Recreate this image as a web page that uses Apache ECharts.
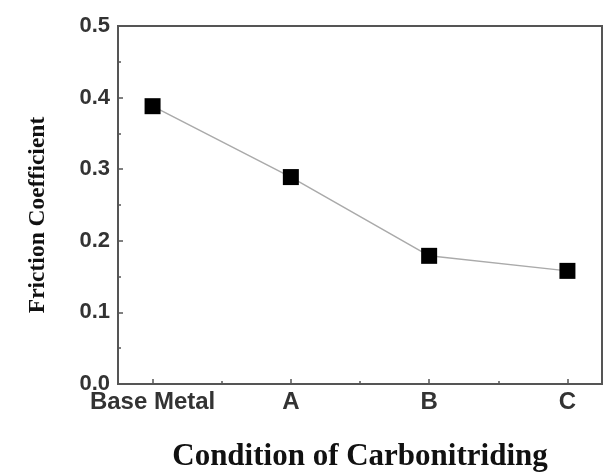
<!DOCTYPE html>
<html>
<head>
<meta charset="utf-8">
<script src="https://cdn.jsdelivr.net/npm/echarts@6/dist/echarts.min.js"></script>
<style>
html,body{margin:0;padding:0;background:#fff;}
#main{width:610px;height:474px;}
</style>
</head>
<body>
<div id="main"></div>
<script>
// data
var conditions = ['Base Metal', 'A', 'B', 'C'];
var friction = [0.388, 0.289, 0.179, 0.158];
var yTicks = [0, 0.1, 0.2, 0.3, 0.4, 0.5];

var points = friction.map(function (v, i) {
    return [i, v];
});
var catPos = conditions.map(function (c, i) { return i; });
var halfPos = [0.5, 1.5, 2.5];

var axisColor = '#555';
var labelFont = {fontFamily: 'Liberation Sans', fontWeight: 'bold', color: '#333'};

var option = {
    animation: false,
    grid: {
        left: 118,
        right: 8,
        top: 26,
        bottom: 90,
        outerBoundsMode: 'none',
        show: true,
        borderColor: axisColor,
        borderWidth: 2
    },
    xAxis: [
        {
            type: 'value',
            min: -0.25,
            max: 3.25,
            position: 'bottom',
            name: 'Condition of Carbonitriding',
            nameLocation: 'middle',
            nameGap: 57,
            nameTextStyle: {fontFamily: 'Liberation Serif', fontWeight: 'bold', fontSize: 31, color: '#111'},
            axisLine: {show: true, onZero: false, lineStyle: {color: axisColor, width: 2}},
            axisTick: {show: true, inside: true, length: 5, customValues: catPos, lineStyle: {color: axisColor, width: 1.5}},
            axisLabel: {
                customValues: catPos,
                fontSize: 24,
                margin: 6,
                fontFamily: labelFont.fontFamily,
                fontWeight: labelFont.fontWeight,
                color: labelFont.color,
                formatter: function (v) { return conditions[Math.round(v)]; }
            },
            splitLine: {show: false}
        },
        {
            type: 'value',
            min: -0.25,
            max: 3.25,
            position: 'bottom',
            axisLine: {show: false, onZero: false},
            axisTick: {show: true, inside: true, length: 3, customValues: halfPos, lineStyle: {color: axisColor, width: 1.5}},
            axisLabel: {show: false},
            splitLine: {show: false}
        }
    ],
    yAxis: {
        type: 'value',
        min: yTicks[0],
        max: yTicks[yTicks.length - 1],
        interval: 0.1,
        name: 'Friction Coefficient',
        nameLocation: 'middle',
        nameGap: 68,
        nameRotate: 90,
        nameTextStyle: {fontFamily: 'Liberation Serif', fontWeight: 'bold', fontSize: 23.5, color: '#111', padding: [0, 20, 0, 0]},
        axisLine: {show: true, onZero: false, lineStyle: {color: axisColor, width: 2}},
        axisTick: {show: true, inside: true, length: 5, lineStyle: {color: axisColor, width: 1.5}},
        minorTick: {show: true, splitNumber: 2, length: 3, lineStyle: {color: axisColor, width: 1.5}},
        axisLabel: {
            fontSize: 22,
            margin: 8,
            fontFamily: labelFont.fontFamily,
            fontWeight: labelFont.fontWeight,
            color: labelFont.color,
            formatter: function (v) { return v.toFixed(1); }
        },
        splitLine: {show: false}
    },
    series: [
        {
            type: 'line',
            data: points,
            symbol: 'rect',
            symbolSize: 16,
            itemStyle: {color: '#000'},
            lineStyle: {color: '#aaa', width: 1.5}
        }
    ]
};

var myChart = echarts.init(document.getElementById('main'));
myChart.setOption(option);
</script>
</body>
</html>
